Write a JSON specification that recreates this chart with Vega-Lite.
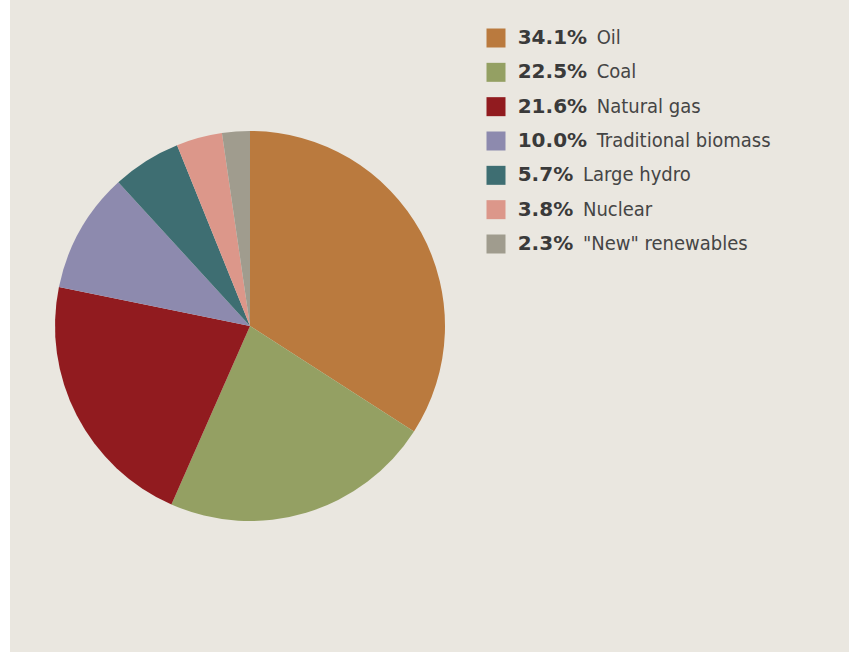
{
  "$schema": "https://vega.github.io/schema/vega-lite/v6.json",
  "background": "white",
  "padding": {"left": 10, "top": 0, "right": 0, "bottom": 3},
  "spacing": 0,
  "bounds": "flush",
  "config": {"view": {"fill": "#EAE7E0", "stroke": null}, "concat": {"spacing": 0}},
  "datasets": {
    "energy": [
      {"source": "Oil", "pct": "34.1%", "value": 34.1},
      {"source": "Coal", "pct": "22.5%", "value": 22.5},
      {"source": "Natural gas", "pct": "21.6%", "value": 21.6},
      {"source": "Traditional biomass", "pct": "10.0%", "value": 10.0},
      {"source": "Large hydro", "pct": "5.7%", "value": 5.7},
      {"source": "Nuclear", "pct": "3.8%", "value": 3.8},
      {"source": "\"New\" renewables", "pct": "2.3%", "value": 2.3}
    ]
  },
  "resolve": {"scale": {"color": "shared"}},
  "hconcat": [
    {
      "width": 480,
      "height": 652,
      "data": {"name": "energy"},
      "view": {"fill": "#EAE7E0", "stroke": null},
      "mark": {"type": "arc", "outerRadius": 195, "stroke": null},
      "encoding": {
        "theta": {"field": "value", "type": "quantitative", "stack": true},
        "order": {"field": "value", "sort": "descending"},
        "color": {
          "field": "source",
          "type": "nominal",
          "legend": null,
          "scale": {
            "domain": ["Oil", "Coal", "Natural gas", "Traditional biomass", "Large hydro", "Nuclear", "\"New\" renewables"],
            "range": ["#BA7A3E", "#94A063", "#911B1F", "#8D8AAE", "#3E6E72", "#DC978A", "#A09C8E"]
          }
        }
      }
    },
    {
      "width": 359,
      "height": 652,
      "data": {"name": "energy"},
      "view": {"fill": "#EAE7E0", "stroke": null},
      "resolve": {"scale": {"x": "shared"}},
      "encoding": {
        "y": {
          "field": "source",
          "type": "nominal",
          "sort": null,
          "axis": null,
          "scale": {"type": "point", "range": [38, 244], "padding": 0}
        }
      },
      "layer": [
        {
          "mark": {"type": "point", "shape": "square", "filled": true, "size": 361, "opacity": 1, "strokeWidth": 0},
          "encoding": {
            "x": {"datum": 6, "type": "quantitative", "scale": {"domain": [0, 359], "range": [0, 359], "nice": false, "zero": false}, "axis": null},
            "color": {"field": "source", "type": "nominal", "legend": null}
          }
        },
        {
          "mark": {"type": "text", "align": "left", "baseline": "middle", "font": "DejaVu Sans", "fontWeight": "bold", "fontSize": 20, "color": "#3a3a3a"},
          "encoding": {
            "x": {"datum": 27.7, "type": "quantitative", "scale": {"domain": [0, 359], "range": [0, 359], "nice": false, "zero": false}, "axis": null},
            "text": {"field": "pct"}
          }
        },
        {
          "transform": [{"filter": "datum.value >= 10"}],
          "mark": {"type": "text", "align": "left", "baseline": "middle", "font": "DejaVu Sans Condensed, Liberation Sans, sans-serif", "fontSize": 20, "color": "#454545"},
          "encoding": {
            "x": {"datum": 106.7, "type": "quantitative", "scale": {"domain": [0, 359], "range": [0, 359], "nice": false, "zero": false}, "axis": null},
            "text": {"field": "source"}
          }
        },
        {
          "transform": [{"filter": "datum.value < 10"}],
          "mark": {"type": "text", "align": "left", "baseline": "middle", "font": "DejaVu Sans Condensed, Liberation Sans, sans-serif", "fontSize": 20, "color": "#454545"},
          "encoding": {
            "x": {"datum": 93, "type": "quantitative", "scale": {"domain": [0, 359], "range": [0, 359], "nice": false, "zero": false}, "axis": null},
            "text": {"field": "source"}
          }
        }
      ]
    }
  ]
}
